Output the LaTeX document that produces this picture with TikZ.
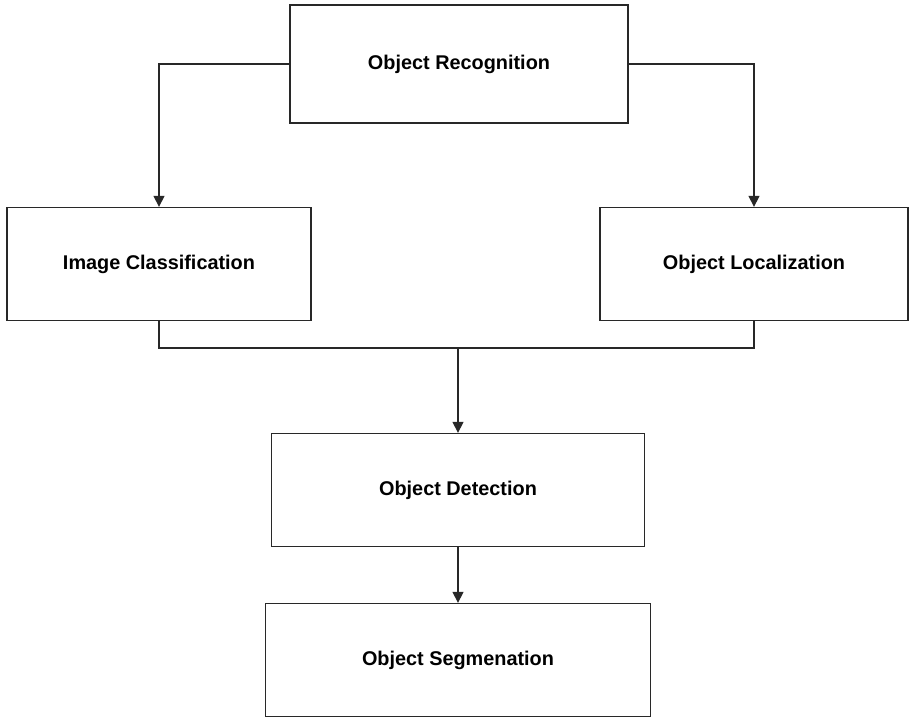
\documentclass[tikz,border=0pt]{standalone}
\usepackage{fontspec}
\setmainfont{Liberation Sans}
\usetikzlibrary{arrows.meta, positioning, calc}
\definecolor{lineC}{RGB}{40, 40, 40}

\begin{document}
\begin{tikzpicture}[
    task/.style={rectangle, draw=lineC, line width=0.75pt, minimum height=2.26cm, text centered, font=\fontsize{11.3}{13}\selectfont\bfseries},
    link/.style={draw=lineC, line width=0.75pt},
    >={Triangle[width=6.2pt, length=6.2pt]}
]
    \useasboundingbox (0,0) rectangle (18.22,14.34);
    \node[task, minimum width=6.76cm, minimum height=2.36cm] (recognition) at (9.18,13.06) {Object Recognition};
    \node[task, minimum width=6.08cm] (classification) at (3.18,9.06) {Image Classification};
    \node[task, minimum width=6.16cm] (localization) at (15.08,9.06) {Object Localization};
    \node[task, minimum width=7.46cm] (detection) at (9.16,4.54) {Object Detection};
    \node[task, minimum width=7.70cm] (segmentation) at (9.16,1.14) {Object Segmenation};

    \coordinate (join) at (9.16,7.38);

    \draw[link, ->] (recognition.west) -| (classification.north);
    \draw[link, ->] (recognition.east) -| (localization.north);
    \draw[link] (classification.south) |- (join) -| (localization.south);
    \draw[link, ->] (join) -- (detection.north);
    \draw[link, ->] (detection.south) -- (segmentation.north);
\end{tikzpicture}
\end{document}
